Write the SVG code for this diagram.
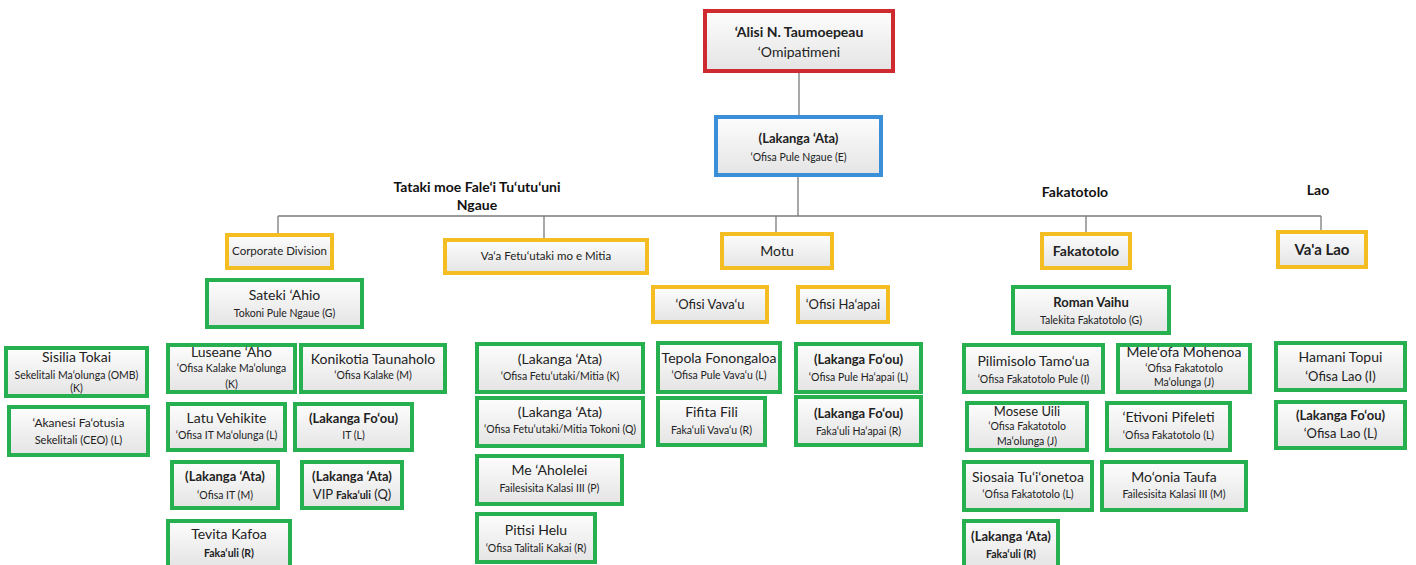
<svg xmlns="http://www.w3.org/2000/svg" width="1416" height="565" viewBox="0 0 1416 565">
<defs>
<linearGradient id="gf" x1="0" y1="0" x2="0" y2="1">
<stop offset="0" stop-color="#fdfdfd"/>
<stop offset="1" stop-color="#e4e4e4"/>
</linearGradient>
</defs>
<style>
rect{fill:url(#gf);stroke-width:4}
.r{stroke:#cf2a30}
.b{stroke:#3a8fd8}
.y{stroke:#f4be22}
.g{stroke:#27b04f}
text{font-family:Lato,"Open Sans","Liberation Sans",sans-serif;fill:#222;text-anchor:middle}
.n{font-size:14px}
.s{font-size:10.5px}
.bd{font-weight:bold}
.h{font-size:14px;font-weight:bold;fill:#111}
.conn path{stroke:#7a7a7a;stroke-width:1.3;fill:none}
</style>
<rect width="1416" height="565" style="fill:#fff;stroke:none"/>
<g class="conn" id="connectors">
<path d="M799 71V117"/>
<path d="M798 175V216"/>
<path d="M278 216H1321"/>
<path d="M278 216V235"/>
<path d="M544 216V240"/>
<path d="M776 216V234"/>
<path d="M1086 216V234"/>
<path d="M1321 216V232"/>
</g>
<g id="labels">
<text class="h" x="477" y="192">Tataki moe Fale‘i Tu‘utu‘uni</text>
<text class="h" x="477" y="210">Ngaue</text>
<text class="h" x="1075" y="197">Fakatotolo</text>
<text class="h" x="1318" y="195">Lao</text>
</g>
<g id="n-alisi"><rect class="r" x="705" y="11" width="188" height="60"/><text class="n bd" x="799" y="37">‘Alisi N. Taumoepeau</text><text class="n" x="799" y="57">‘Omipatimeni</text></g>
<g id="n-pule"><rect class="b" x="716" y="117" width="165" height="58"/><text class="n bd" x="798.5" y="143" style="font-size:13px">(Lakanga ‘Ata)</text><text class="s" x="798.5" y="161">‘Ofisa Pule Ngaue (E)</text></g>
<g id="n-corporate"><rect class="y" x="227" y="235" width="105" height="33"/><text x="279.5" y="255" style="font-size:11.5px">Corporate Division</text></g>
<g id="n-vaa-fetuutaki"><rect class="y" x="445" y="240" width="202" height="33"/><text x="546" y="260" style="font-size:11.5px">Va‘a Fetu‘utaki mo e Mitia</text></g>
<g id="n-motu"><rect class="y" x="722" y="234" width="110" height="34"/><text class="n" x="777" y="256">Motu</text></g>
<g id="n-fakatotolo"><rect class="y" x="1042" y="234" width="88" height="34"/><text class="bd" x="1086" y="256" style="font-size:14px">Fakatotolo</text></g>
<g id="n-vaa-lao"><rect class="y" x="1278" y="232" width="88" height="35"/><text class="bd" x="1322" y="255" style="font-size:15px">Va'a Lao</text></g>
<g id="n-vavau"><rect class="y" x="653" y="287" width="114" height="35"/><text x="710" y="309" style="font-size:13px">‘Ofisi Vava‘u</text></g>
<g id="n-haapai"><rect class="y" x="798" y="287" width="90" height="35"/><text x="843" y="309" style="font-size:13px">‘Ofisi Ha‘apai</text></g>
<g id="n-sateki"><rect class="g" x="207" y="280" width="155" height="47"/><text class="n" x="284.5" y="300">Sateki ‘Ahio</text><text class="s" x="284.5" y="317">Tokoni Pule Ngaue (G)</text></g>
<g id="n-sisilia"><rect class="g" x="6" y="348" width="141" height="48"/><text class="n" x="76.5" y="362">Sisilia Tokai</text><text class="s" x="76.5" y="379">Sekelitali Ma‘olunga (OMB)</text><text class="s" x="76.5" y="392">(K)</text></g>
<g id="n-akanesi"><rect class="g" x="9" y="407" width="139" height="48"/><text x="78.5" y="427" style="font-size:12px">‘Akanesi Fa‘otusia</text><text x="78.5" y="444" style="font-size:11px">Sekelitali (CEO) (L)</text></g>
<g id="n-luseane"><rect class="g" x="168" y="345" width="127" height="47"/><text class="n" x="231.5" y="357">Luseane ‘Aho</text><text class="s" x="231.5" y="372">‘Ofisa Kalake Ma‘olunga</text><text class="s" x="231.5" y="388">(K)</text></g>
<g id="n-konikotia"><rect class="g" x="301" y="345" width="144" height="47"/><text class="n" x="373" y="364">Konikotia Taunaholo</text><text class="s" x="373" y="379">‘Ofisa Kalake (M)</text></g>
<g id="n-latu"><rect class="g" x="168" y="404" width="117" height="46"/><text class="n" x="226.5" y="423">Latu Vehikite</text><text class="s" x="226.5" y="439">‘Ofisa IT Ma‘olunga (L)</text></g>
<g id="n-it"><rect class="g" x="295" y="404" width="117" height="46"/><text class="bd" x="353.5" y="423" style="font-size:13px">(Lakanga Fo‘ou)</text><text class="s" x="353.5" y="439">IT (L)</text></g>
<g id="n-ofisa-it"><rect class="g" x="172" y="462" width="106" height="46"/><text class="bd" x="225" y="481" style="font-size:13px">(Lakanga ‘Ata)</text><text class="s" x="225" y="499">‘Ofisa IT  (M)</text></g>
<g id="n-vip"><rect class="g" x="302" y="462" width="100" height="46"/><text class="bd" x="352" y="481" style="font-size:13px">(Lakanga ‘Ata)</text><text x="352" y="499" style="font-size:13px">VIP <tspan class="bd" style="font-size:10.5px">Faka‘uli</tspan> (Q)</text></g>
<g id="n-tevita"><rect class="g" x="168" y="521" width="122" height="46"/><text class="n" x="229" y="539">Tevita Kafoa</text><text class="s bd" x="229" y="557">Faka‘uli (R)</text></g>
<g id="n-fetuutaki-k"><rect class="g" x="477" y="344" width="166" height="48"/><text class="n" x="560" y="364">(Lakanga ‘Ata)</text><text class="s" x="560" y="380">‘Ofisa Fetu‘utaki/Mitia (K)</text></g>
<g id="n-fetuutaki-q"><rect class="g" x="477" y="398" width="166" height="48"/><text class="n" x="560" y="417">(Lakanga ‘Ata)</text><text class="s" x="560" y="433">‘Ofisa Fetu‘utaki/Mitia Tokoni (Q)</text></g>
<g id="n-me"><rect class="g" x="477" y="456" width="145" height="48"/><text class="n" x="549.5" y="475">Me ‘Aholelei</text><text class="s" x="549.5" y="492">Failesisita Kalasi III (P)</text></g>
<g id="n-pitisi"><rect class="g" x="477" y="514" width="118" height="48"/><text class="n" x="536" y="535">Pitisi Helu</text><text class="s" x="536" y="552">‘Ofisa Talitali Kakai (R)</text></g>
<g id="n-tepola"><rect class="g" x="658" y="343" width="122" height="49"/><text class="n" x="719" y="363">Tepola Fonongaloa</text><text class="s" x="719" y="379">‘Ofisa Pule Vava‘u  (L)</text></g>
<g id="n-fifita"><rect class="g" x="658" y="398" width="107" height="47"/><text class="n" x="711.5" y="417">Fifita Fili</text><text class="s" x="711.5" y="434">Faka‘uli Vava‘u (R)</text></g>
<g id="n-haapai-l"><rect class="g" x="796" y="344" width="125" height="48"/><text class="bd" x="858.5" y="364" style="font-size:13px">(Lakanga Fo‘ou)</text><text class="s" x="858.5" y="381">‘Ofisa Pule Ha‘apai  (L)</text></g>
<g id="n-haapai-r"><rect class="g" x="796" y="397" width="125" height="48"/><text class="bd" x="858.5" y="418" style="font-size:13px">(Lakanga Fo‘ou)</text><text class="s" x="858.5" y="435">Faka‘uli Ha‘apai (R)</text></g>
<g id="n-roman"><rect class="g" x="1013" y="287" width="156" height="46"/><text class="bd" x="1091" y="307" style="font-size:13px">Roman Vaihu</text><text class="s" x="1091" y="324">Talekita Fakatotolo (G)</text></g>
<g id="n-pilimisolo"><rect class="g" x="964" y="345" width="139" height="47"/><text class="n" x="1033.5" y="366">Pilimisolo Tamo‘ua</text><text class="s" x="1033.5" y="383">‘Ofisa Fakatotolo Pule (I)</text></g>
<g id="n-meleofa"><rect class="g" x="1118" y="345" width="132" height="47"/><text class="n" x="1184" y="357">Mele‘ofa Mohenoa</text><text class="s" x="1184" y="372">‘Ofisa Fakatotolo</text><text class="s" x="1184" y="386">Ma‘olunga (J)</text></g>
<g id="n-mosese"><rect class="g" x="967" y="403" width="120" height="47"/><text x="1027" y="416" style="font-size:13px">Mosese Uili</text><text class="s" x="1027" y="430">‘Ofisa Fakatotolo</text><text class="s" x="1027" y="445">Ma‘olunga   (J)</text></g>
<g id="n-etivoni"><rect class="g" x="1107" y="403" width="123" height="47"/><text class="n" x="1168.5" y="422">‘Etivoni Pifeleti</text><text class="s" x="1168.5" y="439">‘Ofisa Fakatotolo (L)</text></g>
<g id="n-siosaia"><rect class="g" x="964" y="462" width="128" height="48"/><text class="n" x="1028" y="482">Siosaia Tu‘i‘onetoa</text><text class="s" x="1028" y="498">‘Ofisa Fakatotolo  (L)</text></g>
<g id="n-moonia"><rect class="g" x="1102" y="462" width="144" height="48"/><text class="n" x="1174" y="482">Mo‘onia Taufa</text><text class="s" x="1174" y="498">Failesisita Kalasi III (M)</text></g>
<g id="n-fakauli-r"><rect class="g" x="964" y="521" width="94" height="46"/><text class="bd" x="1011" y="541" style="font-size:13px">(Lakanga ‘Ata)</text><text class="s bd" x="1011" y="558">Faka‘uli (R)</text></g>
<g id="n-hamani"><rect class="g" x="1276" y="343" width="129" height="47"/><text class="n" x="1340.5" y="362">Hamani Topui</text><text x="1340.5" y="381" style="font-size:13px">‘Ofisa Lao (I)</text></g>
<g id="n-lao-l"><rect class="g" x="1276" y="402" width="129" height="46"/><text class="bd" x="1340.5" y="420" style="font-size:13px">(Lakanga Fo‘ou)</text><text x="1340.5" y="438" style="font-size:13px">‘Ofisa Lao (L)</text></g>
</svg>
